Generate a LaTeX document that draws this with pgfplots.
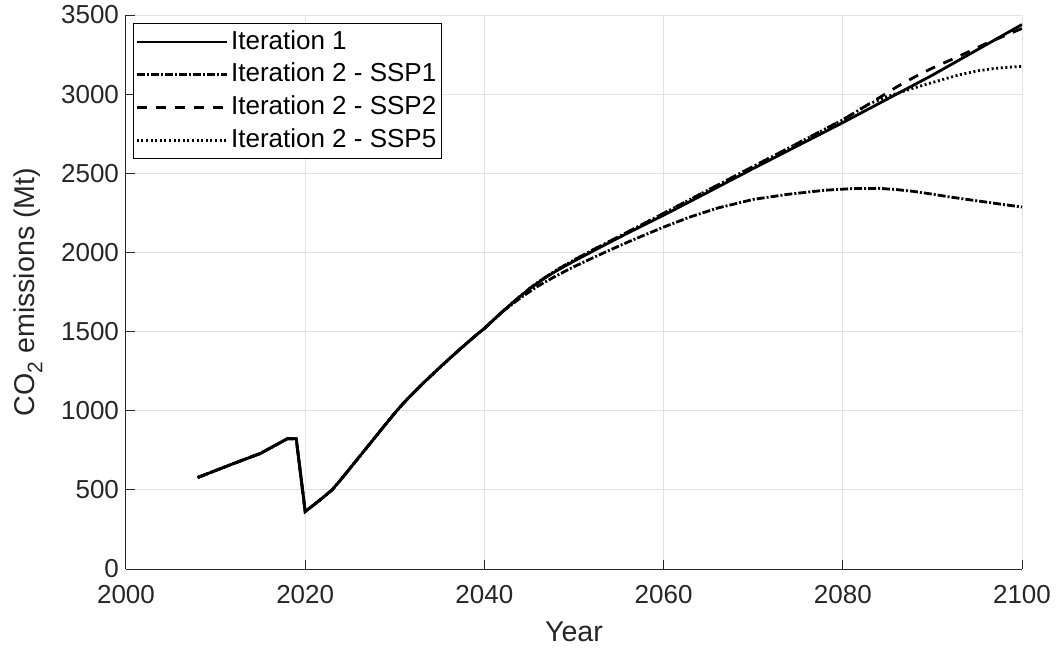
\documentclass[border=0pt]{standalone}
\usepackage{fontspec}
\setmainfont{Liberation Sans}
\usepackage{pgfplots}
\pgfplotsset{compat=1.18}
\definecolor{axgray}{RGB}{38,38,38}
\definecolor{gridgray}{RGB}{225,225,225}
\begin{document}
\begin{tikzpicture}
\useasboundingbox (-63pt,-40.5pt) rectangle (465pt,284.5pt);
\begin{axis}[
  scale only axis, width=448pt, height=277pt,
  xmin=2000, xmax=2100, ymin=0, ymax=3500,
  xtick={2000,2020,2040,2060,2080,2100},
  ytick={0,500,1000,1500,2000,2500,3000,3500},
  axis x line*=bottom, axis y line*=left,
  axis line style={axgray, line width=0.5pt, -},
  grid=major, major grid style={gridgray, line width=0.5pt},
  tick align=inside, major tick length=4.5pt,
  tick style={axgray, line width=0.5pt},
  /pgf/number format/assume math mode=true,
  /pgf/number format/1000 sep={},
  tick label style={font=\fontsize{13}{15.6}\selectfont, text=axgray},
  xticklabel style={yshift=-4.4pt},
  xlabel={Year},
  xlabel style={at={([yshift=-26.2pt]axis description cs:0.5,0)}, anchor=north, inner sep=0pt, font=\fontsize{14.3}{17}\selectfont, text=axgray},
  ylabel={CO\raisebox{-0.55ex}{\fontsize{10.5}{12}\selectfont 2} emissions (Mt)},
  ylabel style={at={([xshift=-56.5pt]axis description cs:0,0.5)}, anchor=north, inner sep=0pt, font=\fontsize{14.3}{17}\selectfont, text=axgray},
  legend style={at={(0,1)}, anchor=north west, xshift=3.5pt, yshift=-4pt,
    draw=black, line width=0.5pt, inner xsep=1pt, inner ysep=1pt,
    font=\fontsize{13}{15.6}\selectfont,
    nodes={inner sep=1.4pt, text height=10.4pt, text depth=3.2pt},
    /tikz/every even column/.append style={column sep=0pt}},
  legend cell align=left,
  legend image code/.code={\draw[#1] (0pt,0pt) -- (45pt,0pt);},
]
\addplot[black, line width=1.4pt] coordinates {
(2008,578)(2010,622)(2012,666)(2014,709)(2015,730)(2016,761)(2017,792)(2018,823)(2019,823)
(2020,363)(2021,407)(2022,452)(2023,500)(2024,566)(2025,636)(2026,706)(2027,776)(2028,846)
(2029,916)(2030,985)(2031,1050)(2032,1108)(2033,1165)(2034,1219)(2035,1272)(2036,1324)
(2037,1375)(2038,1425)(2039,1474)(2040,1520)(2041,1573)(2042,1625)(2043,1675)(2044,1723)
(2045,1768)(2046,1810)(2047,1848)(2048,1882)(2049,1914)(2050,1945)(2052,2005)(2054,2064)
(2056,2122)(2058,2179)(2060,2235)(2065,2382)(2070,2530)(2075,2675)(2080,2820)(2085,2970)
(2090,3120)(2095,3280)(2100,3440)};
\addlegendentry{Iteration 1}
\addplot[black, line width=1.4pt, dash pattern=on 4pt off 1pt on 1pt off 1pt] coordinates {
(2008,578)(2010,622)(2012,666)(2014,709)(2015,730)(2016,761)(2017,792)(2018,823)(2019,823)
(2020,363)(2021,407)(2022,452)(2023,500)(2024,566)(2025,636)(2026,706)(2027,776)(2028,846)
(2029,916)(2030,985)(2031,1050)(2032,1108)(2033,1165)(2034,1219)(2035,1272)(2036,1324)
(2037,1375)(2038,1425)(2039,1474)(2040,1520)(2041,1573)(2042,1625)(2044,1712)(2046,1788)
(2048,1852)(2050,1910)(2052,1963)(2054,2015)(2056,2065)(2058,2113)(2060,2160)(2063,2225)
(2066,2280)(2070,2335)(2074,2368)(2078,2393)(2081,2403)(2084,2405)(2086,2397)(2088,2385)
(2090,2368)(2092,2350)(2094,2334)(2096,2318)(2098,2302)(2100,2287)};
\addlegendentry{Iteration 2 - SSP1}
\addplot[black, line width=1.4pt, dash pattern=on 5pt off 4.5pt] coordinates {
(2008,578)(2010,622)(2012,666)(2014,709)(2015,730)(2016,761)(2017,792)(2018,823)(2019,823)
(2020,363)(2021,407)(2022,452)(2023,500)(2024,566)(2025,636)(2026,706)(2027,776)(2028,846)
(2029,916)(2030,985)(2031,1050)(2032,1108)(2033,1165)(2034,1219)(2035,1272)(2036,1324)
(2037,1375)(2038,1425)(2039,1474)(2040,1520)(2041,1573)(2042,1625)(2043,1675)(2044,1723)
(2045,1770)(2046,1813)(2048,1887)(2050,1952)(2052,2013)(2055,2100)(2060,2247)(2065,2395)
(2070,2543)(2075,2690)(2080,2838)(2084,2975)(2086,3045)(2088,3108)(2090,3165)(2093,3240)
(2096,3320)(2100,3415)};
\addlegendentry{Iteration 2 - SSP2}
\addplot[black, line width=1.4pt, dash pattern=on 1pt off 1.3pt] coordinates {
(2008,578)(2010,622)(2012,666)(2014,709)(2015,730)(2016,761)(2017,792)(2018,823)(2019,823)
(2020,363)(2021,407)(2022,452)(2023,500)(2024,566)(2025,636)(2026,706)(2027,776)(2028,846)
(2029,916)(2030,985)(2031,1050)(2032,1108)(2033,1165)(2034,1219)(2035,1272)(2036,1324)
(2037,1375)(2038,1425)(2039,1474)(2040,1520)(2041,1573)(2042,1625)(2043,1675)(2044,1723)
(2045,1770)(2046,1813)(2048,1887)(2050,1952)(2052,2013)(2055,2100)(2060,2247)(2065,2395)
(2070,2543)(2075,2690)(2080,2838)(2083,2940)(2085,2985)(2087,3022)(2089,3057)(2091,3090)
(2093,3122)(2095,3147)(2097,3163)(2099,3172)(2100,3175)};
\addlegendentry{Iteration 2 - SSP5}
\end{axis}
\end{tikzpicture}
\end{document}
